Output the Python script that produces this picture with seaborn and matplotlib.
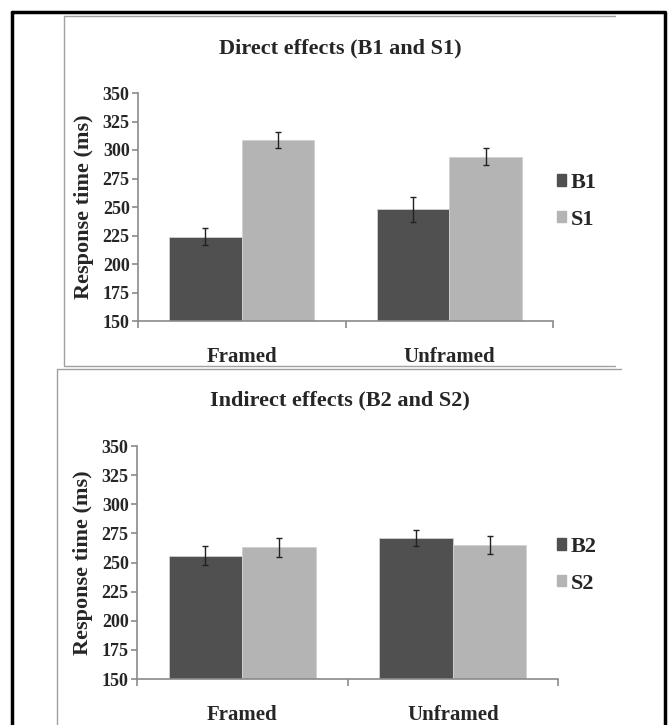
import numpy as np
import pandas as pd
import matplotlib
matplotlib.use("Agg")
import matplotlib.pyplot as plt
from matplotlib.lines import Line2D
import seaborn as sns

# data
conditions = ["Framed", "Unframed"]
direct_labels = ["B1", "S1"]
direct_means = {"B1": [224, 248], "S1": [309, 294]}
direct_err = {"B1": [7.5, 11], "S1": [7, 7.5]}
indirect_labels = ["B2", "S2"]
indirect_means = {"B2": [256, 271], "S2": [263, 265]}
indirect_err = {"B2": [8, 7], "S2": [8, 7.5]}
yticks = [150, 175, 200, 225, 250, 275, 300, 325, 350]

sns.set_style("white")
plt.rcParams["font.family"] = ["Liberation Serif", "DejaVu Serif"]
plt.rcParams["font.weight"] = "bold"

W, H = 668, 725
fig = plt.figure(figsize=(W / 100, H / 100), dpi=100)
dark, light, axis_col = "#505050", "#b4b4b4", "#8a8a8a"


def px_axes(left, top, right, bottom):
    return fig.add_axes([left / W, 1 - bottom / H, (right - left) / W, (bottom - top) / H])


def fline(xs, ys, color, lw):
    fig.add_artist(Line2D([x / W for x in xs], [1 - y / H for y in ys],
                          color=color, lw=lw, transform=fig.transFigure))


def panel(ax, labels, means, errs, title, title_y, leg_y):
    df = pd.DataFrame([(c, s, means[s][i]) for s in labels for i, c in enumerate(conditions)],
                      columns=["cond", "series", "rt"])
    sns.barplot(data=df, x="cond", y="rt", hue="series", order=conditions, hue_order=labels,
                palette=[dark, light], width=0.7, errorbar=None, ax=ax,
                edgecolor="#d0d0d0", linewidth=0.6, legend=False)
    for cont, s in zip(ax.containers, labels):
        for bar, e in zip(cont, errs[s]):
            ax.errorbar(bar.get_x() + bar.get_width() / 2, bar.get_height(), yerr=e,
                        fmt="none", ecolor="#222222", elinewidth=1, capsize=2.5, capthick=1)
    ax.set_ylim(150, 350)
    ax.set_xlim(-0.5, 1.5)
    ax.set_yticks(yticks)
    ax.set_yticklabels([str(t) for t in yticks], fontsize=13, fontweight="bold")
    ax.set_xticks([-0.5, 0.5, 1.5])
    ax.set_xticklabels([])
    ax.set_xticks([0, 1], minor=True)
    ax.set_xticklabels(conditions, minor=True, fontsize=15, fontweight="bold")
    ax.tick_params(axis="x", which="minor", bottom=True, length=0, pad=19)
    ax.tick_params(axis="x", which="major", bottom=True, direction="out", length=5,
                   color=axis_col, width=1.2)
    ax.tick_params(axis="y", left=True, direction="out", length=4, color=axis_col,
                   width=1.2, pad=2)
    ax.set_xlabel("")
    ax.set_ylabel("Response time (ms)", fontsize=16, fontweight="bold", labelpad=6)
    sns.despine(ax=ax)
    for sp in ("left", "bottom"):
        ax.spines[sp].set_color(axis_col)
        ax.spines[sp].set_linewidth(1.2)
    handles = [plt.Rectangle((0, 0), 1, 1, color=c) for c in (dark, light)]
    fig.legend(handles, labels, loc="upper left", bbox_to_anchor=(537 / W, 1 - leg_y / H),
               frameon=False, handlelength=0.4, handleheight=0.4, handletextpad=0.2,
               labelspacing=0.75, prop={"size": 16, "weight": "bold"})
    fig.text(340 / W, 1 - title_y / H, title, ha="center", va="center",
             fontsize=16, fontweight="bold")


ax1 = px_axes(138, 93, 553, 321)
panel(ax1, direct_labels, direct_means, direct_err, "Direct effects (B1 and S1)", 48, 153)
ax2 = px_axes(137, 446, 558, 679)
panel(ax2, indirect_labels, indirect_means, indirect_err, "Indirect effects (B2 and S2)", 400, 517)

# frames around the panels
fline([12, 665, 665], [12, 12, 730], "black", 2.5)
fline([12, 12], [12, 730], "black", 2.5)
fline([615, 64, 64, 615], [16, 16, 366, 366], "#a0a0a0", 1)
fline([621, 57, 57], [369, 369, 730], "#a0a0a0", 1)

fig.savefig("out.png", dpi=100)
